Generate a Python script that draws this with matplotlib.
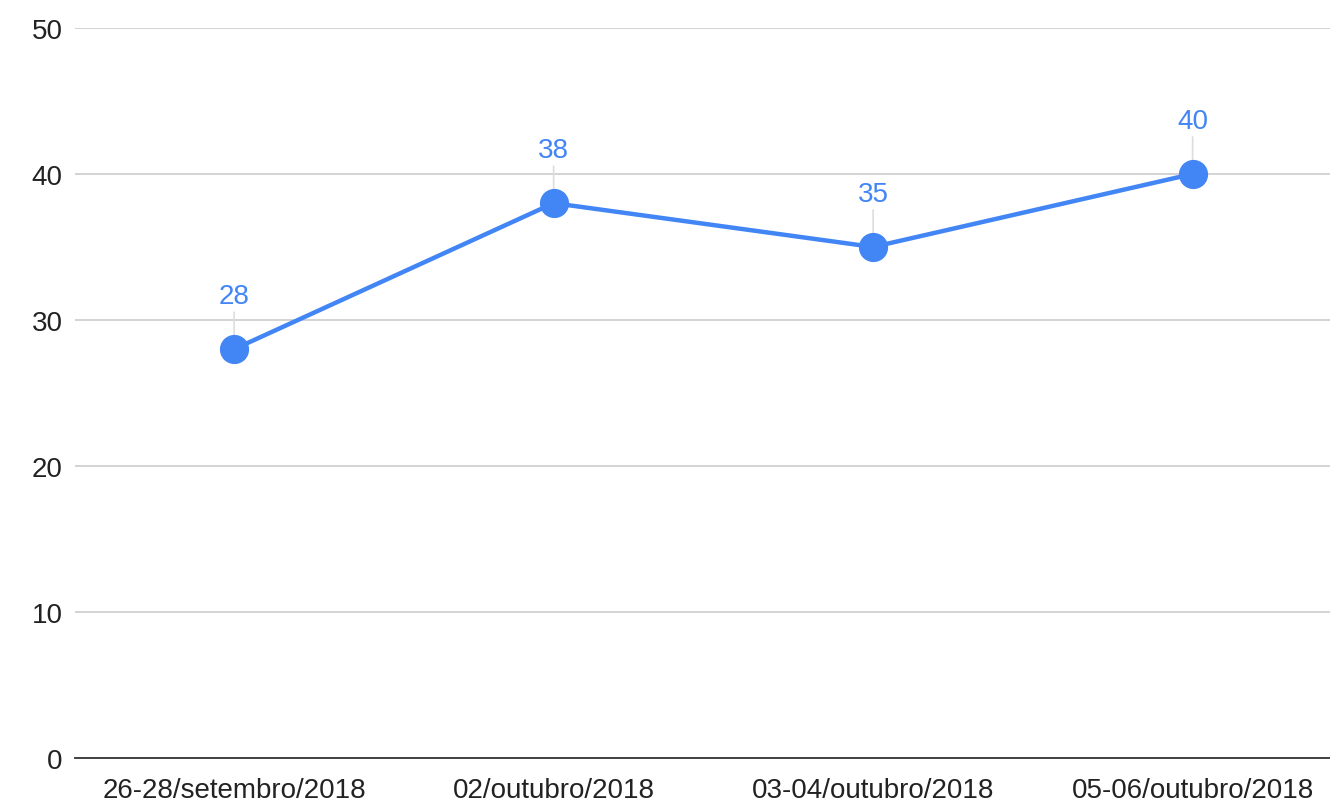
import matplotlib
matplotlib.use("Agg")
import matplotlib.pyplot as plt

categories = ["26-28/setembro/2018", "02/outubro/2018", "03-04/outubro/2018", "05-06/outubro/2018"]
values = [28, 38, 35, 40]
yticks = [0, 10, 20, 30, 40, 50]

plt.rcParams['font.family'] = ['Liberation Sans', 'DejaVu Sans']
blue = "#4285F4"

fig = plt.figure(figsize=(13.3, 8.04), dpi=100)
ax = fig.add_axes([0.0564, 0.056, 0.9436, 0.908])

xs = list(range(len(categories)))
for x, v in zip(xs, values):
    ax.annotate("", xy=(x, v), xytext=(0, 37), textcoords="offset pixels",
                arrowprops=dict(arrowstyle="-", color="#dddddd", lw=1.2,
                                shrinkA=0, shrinkB=0), zorder=2)
    ax.annotate(str(v), xy=(x, v), xytext=(0, 53), textcoords="offset pixels",
                ha="center", va="center", fontsize=20, color=blue, zorder=4)

ax.plot(xs, values, color=blue, lw=3.2, marker="o", markersize=20, zorder=3)

ax.set_xlim(-0.498, 3.43)
ax.set_ylim(0, 50)
ax.set_yticks(yticks)
ax.set_xticks(xs)
ax.set_xticklabels(categories)
ax.grid(axis="y", color="#cccccc", lw=1.2)
ax.set_axisbelow(True)
for s in ["top", "right", "left"]:
    ax.spines[s].set_visible(False)
ax.spines["bottom"].set_color("#333333")
ax.spines["bottom"].set_linewidth(1.3)
ax.tick_params(axis="both", length=0, labelsize=20, colors="#222222")
ax.tick_params(axis="y", pad=9)
ax.tick_params(axis="x", pad=14)

fig.savefig("out.png", dpi=100)
